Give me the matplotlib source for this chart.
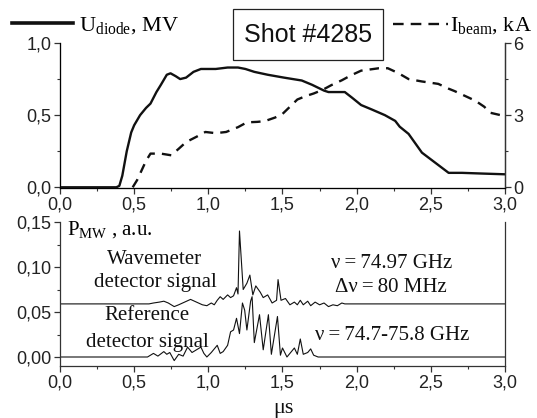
import matplotlib
matplotlib.use("Agg")
import matplotlib.pyplot as plt
from matplotlib.lines import Line2D
from matplotlib.patches import Rectangle
from matplotlib import font_manager
import numpy as np

# ---------------- data ----------------
u_t = [0.0, 0.38, 0.40, 0.42, 0.45, 0.48, 0.50, 0.54, 0.58, 0.61, 0.65, 0.68, 0.72, 0.745,
       0.78, 0.81, 0.85, 0.90, 0.95, 1.05, 1.13, 1.20, 1.25, 1.31, 1.40, 1.51, 1.63, 1.70,
       1.78, 1.81, 1.92, 1.97, 2.03, 2.10, 2.19, 2.26, 2.29, 2.35, 2.44, 2.53, 2.62, 2.71,
       2.85, 3.0]
u_v = [0.0, 0.0, 0.01, 0.08, 0.25, 0.38, 0.43, 0.50, 0.55, 0.58, 0.66, 0.71, 0.78, 0.79,
       0.77, 0.75, 0.76, 0.80, 0.82, 0.82, 0.83, 0.83, 0.82, 0.80, 0.78, 0.76, 0.74, 0.71,
       0.67, 0.66, 0.66, 0.62, 0.57, 0.54, 0.50, 0.46, 0.42, 0.37, 0.24, 0.17, 0.10, 0.10,
       0.095, 0.09]

i_t = [0.49, 0.52, 0.55, 0.58, 0.61, 0.68, 0.75, 0.80, 0.85, 0.92, 0.98, 1.05, 1.12, 1.20,
       1.26, 1.33, 1.38, 1.45, 1.50, 1.55, 1.60, 1.66, 1.71, 1.77, 1.83, 1.90, 1.96, 2.03,
       2.09, 2.15, 2.21, 2.28, 2.35, 2.44, 2.55, 2.62, 2.66, 2.73, 2.80, 2.86, 2.90, 2.97, 3.0]
i_ka = [0.0, 0.3, 0.7, 1.1, 1.4, 1.4, 1.33, 1.6, 1.88, 2.1, 2.3, 2.25, 2.3, 2.5,
        2.7, 2.72, 2.75, 2.9, 3.05, 3.35, 3.65, 3.8, 3.9, 4.05, 4.25, 4.45, 4.65, 4.85,
        4.9, 4.95, 4.95, 4.75, 4.5, 4.4, 4.3, 4.1, 4.0, 3.8, 3.6, 3.35, 3.1, 3.0, 2.95]

wm_t = [0.0, 0.60, 0.63, 0.67, 0.70, 0.73, 0.77, 0.80, 0.84, 0.88, 0.92, 0.96, 0.99, 1.02,
        1.04, 1.06, 1.08, 1.10, 1.13, 1.15, 1.17, 1.19, 1.20, 1.21, 1.235, 1.26, 1.28,
        1.30, 1.32, 1.35, 1.37, 1.40, 1.43, 1.46, 1.47, 1.49, 1.52, 1.55, 1.58, 1.60, 1.62,
        1.64, 1.67, 1.69, 1.72, 1.75, 1.78, 1.81, 1.84, 1.87, 1.90, 1.92, 3.0]
wm_v = [0.059, 0.059, 0.060, 0.061, 0.062, 0.060, 0.056, 0.058, 0.061, 0.064, 0.061, 0.058,
        0.057, 0.060, 0.058, 0.063, 0.067, 0.064, 0.069, 0.066, 0.068, 0.077, 0.070, 0.140,
        0.075, 0.082, 0.091, 0.069, 0.079, 0.072, 0.066, 0.069, 0.060, 0.063, 0.086, 0.063,
        0.065, 0.058, 0.061, 0.058, 0.063, 0.058, 0.062, 0.057, 0.061, 0.058, 0.060, 0.056,
        0.058, 0.057, 0.060, 0.059, 0.059]

ref_t = [0.0, 0.59, 0.63, 0.66, 0.70, 0.72, 0.74, 0.77, 0.80, 0.83, 0.86, 0.89, 0.92, 0.95,
         0.97, 0.99, 1.02, 1.04, 1.06, 1.08, 1.10, 1.13, 1.15, 1.17, 1.19, 1.21, 1.23, 1.245,
         1.26, 1.285, 1.295, 1.31, 1.345, 1.37, 1.405, 1.425, 1.466, 1.486, 1.50, 1.53, 1.55,
         1.58, 1.60, 1.62, 1.64, 1.67, 1.69, 1.71, 1.74, 3.0]
ref_v = [0.0, 0.0, 0.004, 0.001, 0.006, 0.003, 0.005, -0.004, 0.003, 0.001, 0.011, 0.005,
         0.008, 0.011, 0.004, 0.0, 0.005, 0.009, 0.013, 0.004, 0.006, 0.013, 0.028, 0.030,
         0.043, 0.026, 0.060, 0.052, 0.030, 0.062, 0.067, 0.016, 0.047, 0.008, 0.047, 0.003,
         0.045, 0.002, 0.010, 0.0, 0.004, 0.010, 0.003, 0.020, 0.003, 0.005, 0.009, 0.002,
         0.0, 0.0]

x_ticks = [0.0, 0.5, 1.0, 1.5, 2.0, 2.5, 3.0]
x_labels = ["0,0", "0,5", "1,0", "1,5", "2,0", "2,5", "3,0"]
u_ticks = [0.0, 0.5, 1.0]
u_labels = ["0,0", "0,5", "1,0"]
i_ticks = [0, 3, 6]
i_labels = ["0", "3", "6"]
p_ticks = [0.0, 0.05, 0.10, 0.15]
p_labels = ["0,00", "0,05", "0,10", "0,15"]

# ---------------- fonts ----------------
names = {f.name for f in font_manager.fontManager.ttflist}
SANS = "Liberation Sans"
SERIF = "Liberation Serif"
if "Liberation Sans Narrow" in names:
    BOX_FONT, BOX_SIZE = "Liberation Sans Narrow", 21
else:
    BOX_FONT, BOX_SIZE = "Liberation Sans", 18

plt.rcParams["font.family"] = [SANS, "DejaVu Sans"]
plt.rcParams["mathtext.fontset"] = "custom"
plt.rcParams["mathtext.rm"] = SERIF
plt.rcParams["mathtext.it"] = SERIF + ":italic"

W, H = 537, 418
fig = plt.figure(figsize=(W / 100, H / 100), dpi=100)

def fx(px):
    return px / W

def fy(py):
    return 1 - py / H

SPINE = "#333333"
TICKC = "#222222"
TICK_FS = 13

def style_axis(ax):
    ax.spines["top"].set_visible(False)
    for s in ("left", "right", "bottom"):
        ax.spines[s].set_color(SPINE)
        ax.spines[s].set_linewidth(0.9)
    ax.tick_params(which="major", direction="out", length=4, width=0.9, color=SPINE,
                   labelsize=TICK_FS, labelcolor=TICKC, pad=2)
    ax.tick_params(which="minor", direction="out", length=2.5, width=0.8, color=SPINE)
    ax.set_xlim(0, 3.0)
    ax.set_xticks(x_ticks)
    ax.set_xticklabels(x_labels)
    ax.set_xticks(np.arange(0.25, 3.0, 0.5), minor=True)

# ---------------- top panel ----------------
ax1 = fig.add_axes([fx(60), fy(188), fx(445), (188 - 43) / H])
style_axis(ax1)
ax1.set_ylim(-0.005, 1.0)
ax1.set_yticks(u_ticks)
ax1.set_yticklabels(u_labels)
ax1.set_yticks([0.25, 0.75], minor=True)
ax1.plot(u_t, u_v, color="#111111", lw=1.7, solid_joinstyle="round")

ax2 = ax1.twinx()
ax2.spines["top"].set_visible(False)
ax2.spines["right"].set_color(SPINE)
ax2.spines["right"].set_linewidth(0.9)
ax2.set_ylim(-0.03, 6.0)
ax2.set_yticks(i_ticks)
ax2.set_yticklabels(i_labels)
ax2.set_yticks([1.5, 4.5], minor=True)
ax2.tick_params(which="major", direction="out", length=4, width=0.9, color=SPINE,
                labelsize=TICK_FS, labelcolor=TICKC, pad=2)
ax2.tick_params(which="minor", direction="out", length=2.5, width=0.8, color=SPINE)
ax2.plot(i_t, i_ka, color="#111111", lw=1.7, dashes=(4.0, 3.0))

# ---------------- bottom panel ----------------
ax3 = fig.add_axes([fx(60), fy(366), fx(445), (366 - 222) / H])
style_axis(ax3)
ax3.set_ylim(-0.01, 0.15)
ax3.set_yticks(p_ticks)
ax3.set_yticklabels(p_labels)
ax3.set_yticks([0.025, 0.075, 0.125], minor=True)
ax3.plot(wm_t, wm_v, color="#111111", lw=0.8)
ax3.plot(ref_t, ref_v, color="#111111", lw=0.8)

# ---------------- annotations ----------------
fig.add_artist(Line2D([fx(12), fx(73)], [fy(23), fy(23)], color="#111111", lw=2.6))
fig.text(fx(79), fy(31), r"U$_{\mathrm{diode}}$, MV", fontfamily=SERIF, fontsize=16,
         va="baseline", ha="left")

fig.add_artist(Line2D([fx(393), fx(448)], [fy(24), fy(24)], color="#111111", lw=1.7,
                      dashes=(4.5, 3.0)))
fig.text(fx(450), fy(31), r"I$_{\mathrm{beam}}$, kA", fontfamily=SERIF, fontsize=16,
         va="baseline", ha="left")

fig.add_artist(Rectangle((fx(233), fy(60)), fx(150), (60 - 9) / H, fill=False,
                         edgecolor="#222222", lw=0.9, transform=fig.transFigure))
fig.text(fx(308), fy(35), "Shot #4285", fontfamily=BOX_FONT, fontsize=BOX_SIZE,
         ha="center", va="center", color="#111111")

fig.text(fx(67), fy(235), r"P$_{\mathrm{MW}}$ , a.u.", fontfamily=SERIF, fontsize=15,
         va="baseline", ha="left")
serif_kw = dict(fontfamily=SERIF, fontsize=15, ha="center", va="center", color="#111111")
fig.text(fx(155), fy(260), "Wavemeter", **serif_kw)
fig.text(fx(155), fy(283), "detector signal", **serif_kw)
fig.text(fx(147), fy(315), "Reference", **serif_kw)
fig.text(fx(147), fy(342), "detector signal", **serif_kw)
fig.text(fx(392), fy(263), "\u03bd\u2009=\u200974.97 GHz", **serif_kw)
fig.text(fx(391), fy(287), "\u0394\u03bd\u2009=\u200980 MHz", **serif_kw)
fig.text(fx(392), fy(335), "\u03bd\u2009=\u200974.7-75.8 GHz", **serif_kw)
fig.text(fx(283), fy(408), "\u03bcs", fontfamily=SERIF, fontsize=16, ha="center",
         va="center", color="#111111")

fig.savefig("out.png", dpi=100)
